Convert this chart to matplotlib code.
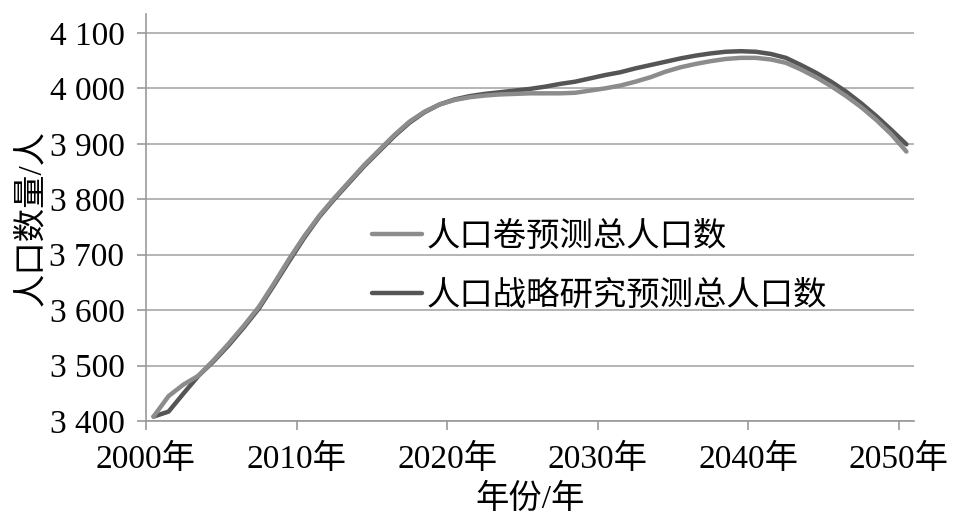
import matplotlib.pyplot as plt

plt.rcParams["font.family"] = ["Liberation Serif", "Noto Sans CJK SC"]

years = list(range(2000, 2051))

# 人口卷预测总人口数
volume_forecast = [
    3408, 3445, 3466, 3482, 3510, 3540, 3572, 3606, 3648, 3692,
    3733, 3770, 3802, 3832, 3862, 3889, 3916, 3940, 3958, 3971,
    3979, 3984, 3987, 3989, 3990, 3991, 3991, 3991, 3992, 3996,
    4000, 4005, 4012, 4020, 4030, 4038, 4044, 4049, 4053, 4055,
    4055, 4052, 4046, 4034, 4020, 4004, 3986, 3966, 3943, 3917,
    3886,
]

# 人口战略研究预测总人口数
strategy_forecast = [
    3408, 3417, 3450, 3482, 3508, 3537, 3569, 3603, 3645, 3688,
    3730, 3768, 3800, 3830, 3860, 3887, 3914, 3938, 3957, 3971,
    3980, 3986, 3990, 3993, 3996, 3999, 4003, 4008, 4012, 4018,
    4024, 4029, 4036, 4042, 4048, 4054, 4059, 4063, 4066, 4067,
    4066, 4062, 4055, 4042, 4028, 4012, 3994, 3973, 3950, 3925,
    3899,
]

series_names = ["人口卷预测总人口数", "人口战略研究预测总人口数"]

x_ticks = [2000, 2010, 2020, 2030, 2040, 2050]
x_tick_labels = ["2000年", "2010年", "2020年", "2030年", "2040年", "2050年"]
y_ticks = [3400, 3500, 3600, 3700, 3800, 3900, 4000, 4100]
y_tick_labels = ["3 400", "3 500", "3 600", "3 700", "3 800", "3 900", "4 000", "4 100"]

fig = plt.figure(figsize=(9.58, 5.32), dpi=100)
ax = fig.add_axes([0.1524, 0.2086, 0.8016, 0.765])

# points sit in the middle of each year category
xs = [y + 0.5 for y in years]
ax.plot(xs, volume_forecast, color="#8c8c8c", lw=3.2, label=series_names[0],
        solid_capstyle="round", zorder=3)
ax.plot(xs, strategy_forecast, color="#555555", lw=3.2, label=series_names[1],
        solid_capstyle="round", zorder=2)

ax.set_xlim(2000, 2051)
ax.set_ylim(3400, 4134)
ax.set_xticks(x_ticks)
ax.set_xticklabels(x_tick_labels)
ax.set_yticks(y_ticks)
ax.set_yticklabels(y_tick_labels)

ax.grid(axis="y", color="#a8a8a8", lw=1.2)
ax.set_axisbelow(True)
for s in ["top", "right"]:
    ax.spines[s].set_visible(False)
for s in ["left", "bottom"]:
    ax.spines[s].set_color("#999999")
    ax.spines[s].set_linewidth(1.2)
ax.tick_params(axis="both", colors="#999999", labelcolor="black", labelsize=24,
               length=6.5, width=1.2)
ax.tick_params(axis="x", pad=10)
ax.tick_params(axis="y", pad=9)

ax.set_xlabel("年份/年", fontsize=24, labelpad=6)
ax.set_ylabel("人口数量/人", fontsize=24, labelpad=2)

leg = ax.legend(loc="upper left", bbox_to_anchor=(0.2765, 0.523), frameon=False,
                fontsize=24, handlelength=1.5, handletextpad=0.15,
                labelspacing=0.85, borderaxespad=0)

fig.savefig("out.png", dpi=100)
